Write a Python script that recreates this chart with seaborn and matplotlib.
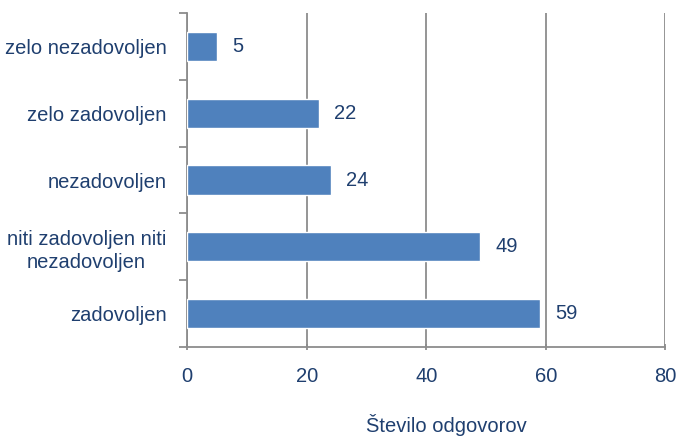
import numpy as np
import pandas as pd
import matplotlib
matplotlib.use("Agg")
import matplotlib.pyplot as plt
import seaborn as sns

# chart data
categories = ["zelo nezadovoljen", "zelo zadovoljen", "nezadovoljen",
              "niti zadovoljen niti\nnezadovoljen", "zadovoljen"]
counts = [5, 22, 24, 49, 59]
x_ticks = [0, 20, 40, 60, 80]
x_label = "Število odgovorov"

text_col = "#1F3F6F"
bar_col = "#4F81BD"
grid_col = "#8C8C8C"
fs = 14.5

sns.set_theme(style="white")
plt.rcParams["font.family"] = ["Liberation Sans", "DejaVu Sans"]

df = pd.DataFrame({"kategorija": categories, "odgovori": counts})

fig = plt.figure(figsize=(6.83, 4.38), dpi=100)
ax = fig.add_axes([0.274, 0.208, 0.700, 0.762])

sns.barplot(data=df, y="kategorija", x="odgovori", orient="h", color=bar_col,
            width=0.44, saturation=1, ax=ax, zorder=3)

ax.set_xlim(0, 80)
ax.set_ylim(len(categories) - 0.5, -0.5)
ax.set_xticks(x_ticks)
ax.set_xticklabels([str(t) for t in x_ticks])

# vertical gridlines
ax.grid(axis="x", color=grid_col, linewidth=1.3)
ax.set_axisbelow(True)

for s in ["top", "right"]:
    ax.spines[s].set_visible(False)
for s in ["left", "bottom"]:
    ax.spines[s].set_color(grid_col)
    ax.spines[s].set_linewidth(1.3)

# tick marks at category boundaries on y, labels at centres
ax.set_yticks(np.arange(-0.5, len(categories), 1), minor=True)
ax.tick_params(axis="y", which="minor", length=6, width=1.3, color=grid_col, left=True)
ax.tick_params(axis="y", which="major", length=0, pad=15, labelsize=fs, labelcolor=text_col)
for lab in ax.get_yticklabels():
    lab.set_multialignment("center")
    lab.set_linespacing(1.3)

ax.tick_params(axis="x", which="major", length=5, width=1.3, color=grid_col,
               bottom=True, direction="inout", labelsize=fs, labelcolor=text_col, pad=12)

ax.set_ylabel("")
ax.set_xlabel(x_label, fontsize=fs, color=text_col)
ax.xaxis.set_label_coords(0.542, -0.2)

for cont in ax.containers:
    ax.bar_label(cont, labels=[str(v) for v in counts], padding=11,
                 fontsize=fs, color=text_col)

fig.savefig("out.png", dpi=100)
